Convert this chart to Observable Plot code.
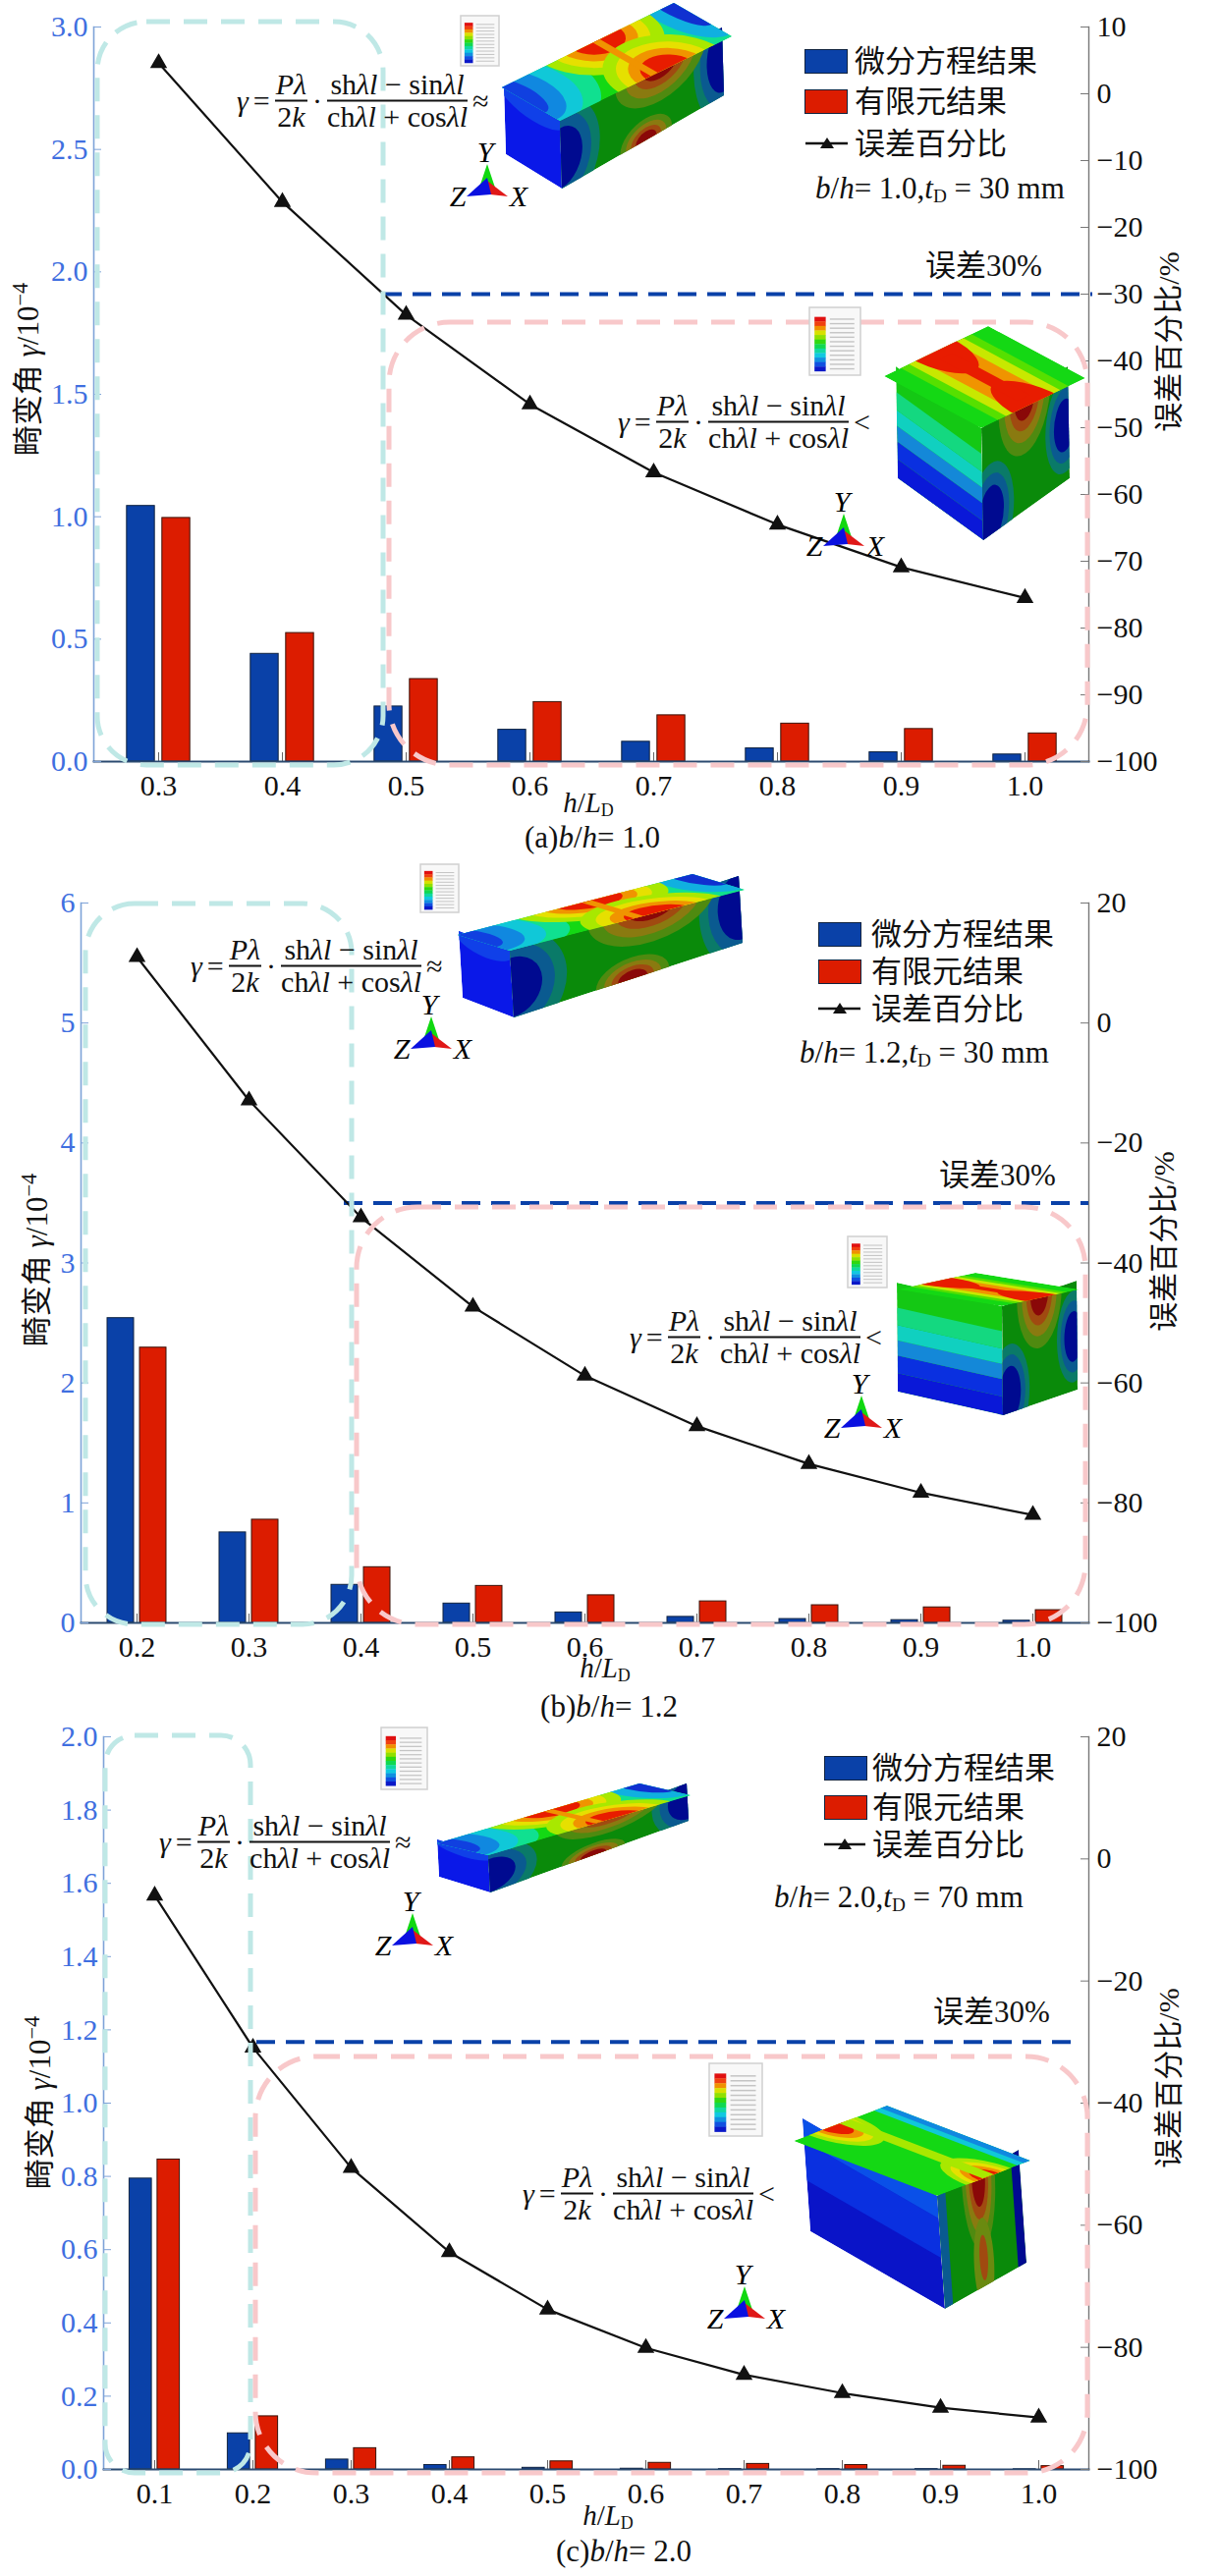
<!DOCTYPE html>
<html lang="zh">
<head>
<meta charset="utf-8">
<script src="https://cdn.jsdelivr.net/npm/d3@7"></script>
<script src="https://cdn.jsdelivr.net/npm/@observablehq/plot@0.6"></script>
<style>
html,body{margin:0;padding:0;background:#fff}
#page{position:relative;width:1241px;height:2623px;overflow:hidden;font-family:"Liberation Serif","Noto Sans CJK SC";color:#111}
#page>svg.plot{position:absolute;left:0}
#page svg text{font-family:"Liberation Serif","Noto Sans CJK SC" !important}
.t{position:absolute;white-space:nowrap;transform:translate(0,-50%);line-height:1}
.c{transform:translate(-50%,-50%)}
.rot{transform:translate(-50%,-50%) rotate(-90deg)}
.eq{display:flex;align-items:center;font-size:30px;gap:5px}
.fr{display:inline-flex;flex-direction:column;align-items:center;line-height:1}
.fr>span:first-child{border-bottom:2px solid #111;padding:0 1px 1px;align-self:stretch;text-align:center}
.leg{font-size:31px}
.sw{position:absolute;border:1px solid #10233f;box-sizing:border-box}
sub{font-size:.62em;vertical-align:-0.25em;line-height:0}
sup{font-size:.72em;vertical-align:.45em;line-height:0}
#deco{position:absolute;left:0;top:0}
</style>
</head>
<body>
<div id="page"></div>
<script>
// ---------- chart values ----------
const xA = ["0.3","0.4","0.5","0.6","0.7","0.8","0.9","1.0"];
const deA = [1.044,0.44,0.225,0.13,0.081,0.054,0.038,0.029];
const feA = [0.995,0.525,0.337,0.243,0.189,0.155,0.133,0.115];
const errA = [4.6,-16.2,-33.1,-46.5,-56.7,-64.5,-70.9,-75.5];
const leftTicksA = [0,0.5,1,1.5,2,2.5,3];
const rightTicksA = [10,0,-10,-20,-30,-40,-50,-60,-70,-80,-90,-100];

const xB = ["0.2","0.3","0.4","0.5","0.6","0.7","0.8","0.9","1.0"];
const deB = [2.54,0.754,0.317,0.161,0.087,0.05,0.032,0.023,0.018];
const feB = [2.294,0.86,0.464,0.308,0.23,0.179,0.147,0.129,0.106];
const errB = [11,-12.9,-32.4,-47.3,-58.8,-67.2,-73.5,-78.3,-82];
const leftTicksB = [0,1,2,3,4,5,6];
const rightTicksB = [20,0,-20,-40,-60,-80,-100];

const xC = ["0.1","0.2","0.3","0.4","0.5","0.6","0.7","0.8","0.9","1.0"];
const deC = [0.794,0.0985,0.027,0.012,0.0045,0.002,0.001,0.001,0.001,0.0005];
const feC = [0.846,0.145,0.058,0.033,0.022,0.018,0.015,0.012,0.01,0.009];
const errC = [-6,-30.9,-50.6,-64.4,-73.8,-80.1,-84.5,-87.5,-89.9,-91.5];
const leftTicksC = [0,0.2,0.4,0.6,0.8,1,1.2,1.4,1.6,1.8,2];
const rightTicksC = [20,0,-20,-40,-60,-80,-100];

const threshold = -30;
const BLUE="#0a41a8", RED="#dc1c00", AXBLUE="#3f6fe0";
const page=document.getElementById("page");

function panel(o){
  const toY=d3.scaleLinear(o.errDomain,o.yDomain);
  const rows=o.x.map((k,i)=>({k,de:o.de[i],fe:o.fe[i],err:toY(o.err[i])}));
  const width=1241, plotW=width-o.ml-o.mr, band=plotW/o.x.length;
  const inset=(band-o.barW)/2, shift=(o.barW+o.gap)/2;
  const fmt=o.fmt;
  const svg=Plot.plot({
    width,height:o.h,marginTop:o.mt,marginBottom:o.mb,marginLeft:o.ml,marginRight:o.mr,
    style:{background:"transparent",overflow:"visible"},
    x:{type:"band",domain:o.x,padding:0,label:null},
    y:{domain:o.yDomain,range:[o.h-o.mb,o.mt],label:null},
    marks:[
      Plot.barY(rows,{x:"k",y:"de",dx:-shift,insetLeft:inset,insetRight:inset,fill:BLUE,stroke:"#10233f",strokeWidth:1}),
      Plot.barY(rows,{x:"k",y:"fe",dx:shift,insetLeft:inset,insetRight:inset,fill:RED,stroke:"#3a1208",strokeWidth:1}),
      Plot.axisX({tickSize:-9,tickPadding:22,fontSize:30,stroke:"#666",color:"#111",label:null}),
      Plot.frame({anchor:"left",stroke:"#7ea3d8",strokeWidth:1.6}),
      Plot.frame({anchor:"right",stroke:"#777",strokeWidth:1.4}),
      Plot.frame({anchor:"bottom",stroke:"#2a4a70",strokeWidth:1.8}),
      Plot.axisY({anchor:"left",ticks:o.leftTicks,tickFormat:fmt,tickSize:-8,tickPadding:14,fontSize:30,stroke:"#7ea3d8",color:AXBLUE,label:null}),
      Plot.axisY(o.rightTicks.map(d=>toY(d)),{anchor:"right",tickFormat:(d)=>d3.format("d")(Math.round(toY.invert(d))).replace("-","−"),tickSize:-9,tickPadding:17,fontSize:30,stroke:"#777",color:"#111",label:null}),
      Plot.ruleY([toY(o.threshold)],{stroke:BLUE,strokeWidth:4,strokeDasharray:"19 11",insetLeft:o.ruleInsetLeft,insetRight:o.ruleInsetRight}),
      Plot.line(rows,{x:"k",y:"err",stroke:"#111",strokeWidth:2.2}),
      Plot.dot(rows,{x:"k",y:"err",symbol:"triangle",r:5.5,fill:"#111",stroke:"#111"})
    ]
  });
  svg.classList.add("plot");
  svg.style.top=o.top+"px";
  page.appendChild(svg);
}
const f1=d3.format(".1f"), f0=d3.format("d");
panel({top:0,h:870,mt:27,mb:95,ml:95,mr:133,x:xA,de:deA,fe:feA,err:errA,yDomain:[0,3],errDomain:[-100,10],leftTicks:leftTicksA,rightTicks:rightTicksA,fmt:f1,barW:29,gap:7,threshold,ruleInsetLeft:295,ruleInsetRight:-4});
panel({top:870,h:880,mt:49,mb:98,ml:82,mr:133,x:xB,de:deB,fe:feB,err:errB,yDomain:[0,6],errDomain:[-100,20],leftTicks:leftTicksB,rightTicks:rightTicksB,fmt:f0,barW:27,gap:6,threshold,ruleInsetLeft:268,ruleInsetRight:0});
panel({top:1750,h:873,mt:18,mb:109,ml:105,mr:133,x:xC,de:deC,fe:feC,err:errC,yDomain:[0,2],errDomain:[-100,20],leftTicks:leftTicksC,rightTicks:rightTicksC,fmt:f1,barW:23,gap:5.5,threshold,ruleInsetLeft:156,ruleInsetRight:15});

// ---------- annotation text ----------
function T(cls,x,y,html,size){
  const d=document.createElement("div");
  d.className="t "+cls; d.style.left=x+"px"; d.style.top=y+"px";
  if(size) d.style.fontSize=size+"px";
  d.innerHTML=html; page.appendChild(d);
}
const num=a=>`<span class="fr"><span>${a[0]}</span><span>${a[1]}</span></span>`;
const eqHtml=(sign)=>`<i>γ</i><span>=</span>${num(['<i>Pλ</i>','2<i>k</i>'])}<span>·</span>${num(['sh<i>λl</i> − sin<i>λl</i>','ch<i>λl</i> + cos<i>λl</i>'])}<span>${sign}</span>`;
const yLab=`畸变角 <i>γ</i>/10<sup>−4</sup>`, rLab=`误差百分比/%`;
const xLab=`<i>h</i>/<i>L</i><sub>D</sub>`;
function labels(o){
  T("eq",o.eq1[0],o.eq1[1],eqHtml("≈"));
  T("eq",o.eq2[0],o.eq2[1],eqHtml("<"));
  T("rot",o.yl[0],o.yl[1],yLab,31);
  T("rot",o.rl[0],o.rl[1],rLab,30);
  T("c",o.xl[0],o.xl[1],xLab,29);
  T("c",o.cap[0],o.cap[1],o.capT,31);
  T("",o.note[0],o.note[1],o.noteT,31);
  T("",o.e30[0],o.e30[1],"误差30%",31);
  const [sx,tx,r1,r2,r3]=o.leg;
  const sw=(y,c)=>{const s=document.createElement("div");s.className="sw";s.style.cssText=`left:${sx}px;top:${y-12.5}px;width:44px;height:25px;background:${c}`;page.appendChild(s);};
  sw(r1,BLUE); sw(r2,RED);
  T("leg",tx,r1,"微分方程结果"); T("leg",tx,r2,"有限元结果"); T("leg",tx,r3,"误差百分比");
}
labels({eq1:[241,102],eq2:[629,429],yl:[28,376],rl:[1190,348],xl:[599,817],cap:[603,852],capT:`(a)<i>b</i>/<i>h</i>= 1.0`,note:[830,191],noteT:`<i>b</i>/<i>h</i>= 1.0,<i>t</i><sub>D</sub> = 30 mm`,e30:[942,270],leg:[819,870,62,103,146]});
labels({eq1:[194,983],eq2:[641,1361],yl:[37,1283],rl:[1185,1264],xl:[616,1698],cap:[620,1737],capT:`(b)<i>b</i>/<i>h</i>= 1.2`,note:[814,1071],noteT:`<i>b</i>/<i>h</i>= 1.2,<i>t</i><sub>D</sub> = 30 mm`,e30:[956,1196],leg:[833,887,951,989,1027]});
labels({eq1:[162,1875],eq2:[532,2233],yl:[40,2141],rl:[1190,2116],xl:[619,2561],cap:[635,2597],capT:`(c)<i>b</i>/<i>h</i>= 2.0`,note:[788,1931],noteT:`<i>b</i>/<i>h</i>= 2.0,<i>t</i><sub>D</sub> = 70 mm`,e30:[950,2048],leg:[839,888,1800,1840,1878]});

// ---------- decoration (FE renderings, orientation triads, dashed outlines) ----------
const e=(x,y,rx,ry,c)=>`<ellipse cx="${x}" cy="${y}" rx="${rx}" ry="${ry}" fill="${c}"/>`;
const r=(x,y,w,h,c)=>`<rect x="${x}" y="${y}" width="${w}" height="${h}" fill="${c}"/>`;
const face=(O,A,B,bg,items)=>{const U=[A[0]-O[0],A[1]-O[1]],V=[B[0]-O[0],B[1]-O[1]];
  return `<g transform="matrix(${U[0]} ${U[1]} ${V[0]} ${V[1]} ${O[0]} ${O[1]})" clip-path="url(#unit)">${r(0,0,1,1,bg)}${items}</g>`;};
const warm=(x,y,rx,ry)=>e(x,y,rx,ry,"#a8e800")+e(x,y,rx*.8,ry*.8,"#e6e000")+e(x,y,rx*.62,ry*.62,"#f09400")+e(x,y,rx*.44,ry*.44,"#e81c00");
const hot=(x,y,rx,ry)=>e(x,y,rx,ry,"#4f8a10")+e(x,y,rx*.78,ry*.78,"#8a7a10")+e(x,y,rx*.58,ry*.58,"#a04a10")+e(x,y,rx*.4,ry*.4,"#8a0808");
const cold=(x,y,rx,ry)=>e(x,y,rx,ry,"#0a7a68")+e(x,y,rx*.78,ry*.78,"#0a5a90")+e(x,y,rx*.55,ry*.55,"#000a90");
function beam(p){
  const {L,N,R,B,Nb,Lb,Rb}=p;
  return face(Nb,Lb,N,"#0a18e8",e(.5,1,.6,.25,"#1040e8"))
   +face(Nb,Rb,N,"#0a8a0a",cold(0,.45,.24,.8)+cold(1,.55,.18,.9)+hot(.62,1,.28,.55)+hot(.52,0,.16,.32))
   +face(N,R,L,"#14d814",
      e(0,.75,.36,1,"#10e090")+e(0,.75,.26,.85,"#10c8d8")+e(0,.75,.17,.7,"#1088e0")+e(0,.75,.08,.5,"#1040e0")
      +e(1,.85,.22,1,"#10e090")+e(1,.85,.15,.8,"#10b0e0")+e(1,.95,.08,.6,"#1030d0")
      +warm(.56,1.05,.3,.8)+warm(.62,-.05,.28,.8)+r(.53,0,.04,1,"#f09400"));
}
function cube(p){
  const {L,N,R,B,Nb,Lb,Rb}=p;
  return face(Nb,Lb,N,"#14c814",
      r(0,0,1,.17,"#0a18d8")+r(0,.17,1,.16,"#0a30e0")+r(0,.33,1,.14,"#1488d8")+r(0,.47,1,.14,"#10d0c0")+r(0,.61,1,.16,"#14d880"))
   +face(Nb,Rb,N,"#0a8a0a",hot(.5,1,.3,.5)+cold(.1,.18,.26,.45)+cold(.95,.5,.22,.42))
   +face(N,R,L,"#14d814",
      r(.16,0,.68,1,"#56e000")+r(.24,0,.52,1,"#c8e800")+r(.33,0,.34,1,"#f09400")
      +e(.5,-.05,.2,.44,"#e81c00")+e(.5,1.05,.2,.44,"#e81c00")+r(.44,.1,.12,.8,"#e81c00"));
}
// flatter block of panel (c): blue long side, red only near the mid edges of the top
function slab(p){
  const {L,N,R,B,Nb,Lb,Rb}=p;
  return face(Nb,Lb,N,"#0a14c8",r(0,.45,1,.35,"#0a30e0")+r(0,.8,1,.2,"#0a50e8"))
   +face(Nb,Rb,N,"#0a8a0a",hot(.5,.95,.2,.62)+e(.5,.2,.12,.4,"#6a8a10")+e(.5,.25,.05,.2,"#a04a10")+r(0,0,.1,1,"#0a5a90")+r(.9,0,.1,1,"#000a90"))
   +face(N,R,L,"#14d814",
      warm(.55,-.02,.24,.32)+warm(.42,1.02,.26,.34)+r(.49,0,.12,1,"#a8e800")
      +r(.86,0,.14,1,"#10c8d8")+r(.93,0,.07,1,"#1088e0"));
}
function triad(cx,y){
  return `<polygon points="${cx},${y-33} ${cx-8},${y-9} ${cx+8},${y-9}" fill="#10d810"/>
  <polygon points="${cx},${y-16} ${cx+21},${y} ${cx+3},${y-2}" fill="#e01818"/>
  <polygon points="${cx},${y-19} ${cx-21},${y} ${cx+4},${y-2}" fill="#0a10e0"/>
  <text x="${cx-2}" y="${y-35}" text-anchor="middle" font-size="30" font-style="italic">Y</text>
  <text x="${cx-30}" y="${y+10}" text-anchor="middle" font-size="30" font-style="italic">Z</text>
  <text x="${cx+32}" y="${y+10}" text-anchor="middle" font-size="30" font-style="italic">X</text>`;
}
const ramp=["#e01010","#f04010","#f09000","#d8e000","#90e000","#30d810","#10d850","#10d8a0","#10c8e0","#1090e0","#1050e0","#0a18c8"];
function mini(x,y,w,h){
  let s=`<rect x="${x}" y="${y}" width="${w}" height="${h}" fill="#f8f8f8" stroke="#d0d0d0" stroke-width="1.5"/>`;
  const top=y+h*.14,bh=(h*.8)/ramp.length;
  ramp.forEach((c,i)=>{s+=`<rect x="${x+w*.1}" y="${top+i*bh}" width="${w*.22}" height="${bh+.3}" fill="${c}"/><rect x="${x+w*.4}" y="${top+i*bh+bh*.35}" width="${w*.48}" height="${bh*.3}" fill="#c4c4c4"/>`;});
  return s;
}
const box=(x1,y1,x2,y2,rx,c)=>`<rect x="${x1}" y="${y1}" width="${x2-x1}" height="${y2-y1}" rx="${rx}" ry="${rx}" fill="none" stroke="${c}" stroke-width="5" stroke-dasharray="24 14"/>`;
const CY="#bfe8e6", PK="#f8c8ca";
const deco=`<svg id="deco" width="1241" height="2623" viewBox="0 0 1241 2623">
<defs><clipPath id="unit"><rect width="1" height="1"/></clipPath></defs>
${box(99,22,390,779,50,CY)}${box(396,328,1107,779,62,PK)}
${box(87,920,358,1654,50,CY)}${box(363,1229,1105,1654,62,PK)}
${box(107,1767,255,2518,30,CY)}${box(260,2094,1107,2518,62,PK)}
${beam({L:[511,89],N:[570,123],R:[745,37],B:[689,17],Nb:[572,192],Lb:[515,157],Rb:[737,97]})}
${cube({L:[900,383],N:[999,436],R:[1105,385],B:[1003,343],Nb:[1001,550],Lb:[914,487],Rb:[1089,487]})}
${beam({L:[466,952],N:[519,968],R:[758,906],B:[701,899],Nb:[523,1036],Lb:[471,1016],Rb:[756,960]})}
${cube({L:[914,1313],N:[1020,1330],R:[1099,1313],B:[990,1297],Nb:[1021,1441],Lb:[914,1417],Rb:[1097,1415]})}
${beam({L:[445,1877],N:[497,1889],R:[703,1828],B:[657,1821],Nb:[499,1927],Lb:[447,1911],Rb:[701,1854]})}
${slab({L:[808,2180],N:[954,2236],R:[1049,2200],B:[895,2156],Nb:[962,2351],Lb:[825,2272],Rb:[1045,2304]})}
${mini(469,16,39,51)}${mini(824,313,52,69)}${mini(428,880,39,49)}${mini(863,1259,40,52)}${mini(388,1759,47,63)}${mini(722,2101,54,74)}
${triad(496,200)}${triad(859,556)}${triad(439,1068)}${triad(877,1454)}${triad(420,1981)}${triad(758,2361)}
<g stroke="#111" stroke-width="2.5">
<line x1="820" x2="863" y1="146" y2="146"/><line x1="833" x2="876" y1="1027" y2="1027"/><line x1="839" x2="881" y1="1878" y2="1878"/></g>
<polygon points="842,140 835,151 849,151" fill="#111"/><polygon points="855,1021 848,1032 862,1032" fill="#111"/><polygon points="860,1872 853,1883 867,1883" fill="#111"/>
</svg>`;
page.insertAdjacentHTML("beforeend",deco);
// keep text above the decoration
page.querySelectorAll(".t,.sw").forEach(n=>page.appendChild(n));
</script>
</body>
</html>
